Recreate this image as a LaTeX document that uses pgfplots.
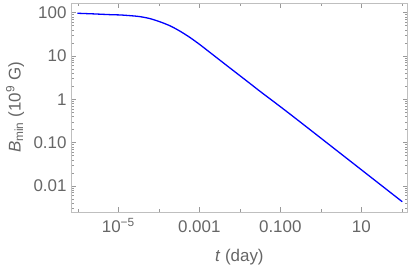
\documentclass[border=0pt]{standalone}
\usepackage{pgfplots}
\pgfplotsset{compat=1.18}
\usepackage{fontspec}
\setmainfont{Liberation Sans}
\definecolor{labgray}{gray}{0.4}
\definecolor{framegray}{gray}{0.75}
\definecolor{tickgray}{gray}{0.6}
\begin{document}
\begin{tikzpicture}
\begin{axis}[
  scale only axis, width=336.7bp, height=209bp,
  xmode=log, ymode=log,
  xmin=6.8e-7, xmax=140, ymin=0.0025, ymax=167,
  axis line style={framegray, line width=0.8bp},
  every tick/.style={tickgray, line width=0.5bp},
  major tick length=5bp, minor tick length=3bp,
  xtick={1e-5,1e-3,0.1,10},
  xticklabels={10\textsuperscript{−5},0.001,0.100,10},
  minor xtick={1e-6,1e-4,1e-2,1,100},
  ytick={0.01,0.1,1,10,100},
  yticklabels={0.01,0.10,1,10,100},
  minor ytick={0.003,0.004,0.005,0.006,0.007,0.008,0.009,0.02,0.03,0.04,0.05,0.06,0.07,0.08,0.09,0.2,0.3,0.4,0.5,0.6,0.7,0.8,0.9,2,3,4,5,6,7,8,9,20,30,40,50,60,70,80,90},
  tick label style={font=\fontsize{17}{20}\selectfont, text=labgray, inner sep=0pt},
  xticklabel style={anchor=base, yshift=-20.7bp},
  yticklabel style={anchor=east, xshift=-4.3bp},
  every axis y label/.style={at={(axis description cs:0,0.5)}, xshift=-56bp, rotate=90, anchor=center, font=\fontsize{17}{20}\selectfont, text=labgray},
  every axis x label/.style={at={(axis description cs:0.5,0)}, yshift=-44.7bp, anchor=center, font=\fontsize{17}{20}\selectfont, text=labgray},
  xlabel={\textit{t} (day)},
  ylabel={\textit{B}\textsubscript{min} (10\textsuperscript{9} G)},
]
\addplot[blue, line width=1.3bp, smooth] coordinates {
(9.73e-7,96.8) (2.661e-6,93.3) (6.237e-6,89.9) (1.102e-5,88.5) (1.945e-5,85.3)
(3.435e-5,80.9) (6.068e-5,72.8) (1.072e-4,61.4) (1.892e-4,49.7) (3.334e-4,37.4)
(5.888e-4,26.7) (1.040e-3,18.2) (1.837e-3,12.05) (5.72e-3,5.28) (0.01786,2.317)
(0.03162,1.527) (0.1726,0.458) (5.236,0.0380) (102.8,0.004315)
};
\end{axis}
\pgfresetboundingbox
\path[use as bounding box] (-71bp,-55bp) rectangle (342bp,212bp);
\end{tikzpicture}
\end{document}
